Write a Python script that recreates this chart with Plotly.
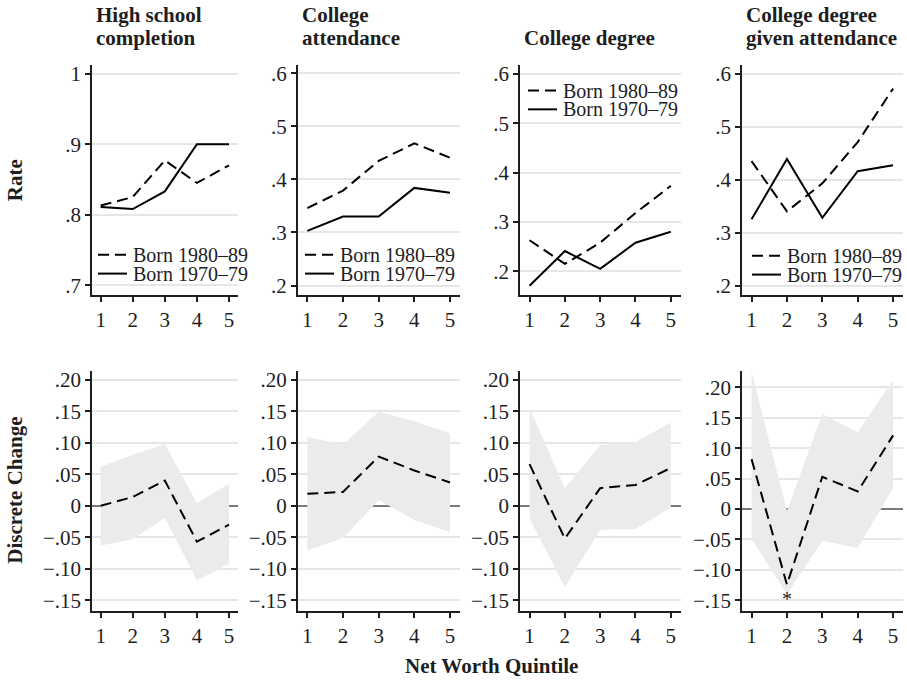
import plotly.graph_objects as go

# ---- data -------------------------------------------------------------
QUINTILES = [1, 2, 3, 4, 5]
COHORTS = ["Born 1980–89", "Born 1970–79"]
PANEL_TITLES = [
    ["High school", "completion"],
    ["College", "attendance"],
    ["", "College degree"],
    ["College degree", "given attendance"],
]

# Rates by cohort (top row)
hs_1980 = [0.813, 0.825, 0.877, 0.845, 0.870]
hs_1970 = [0.811, 0.808, 0.833, 0.900, 0.900]
att_1980 = [0.346, 0.379, 0.435, 0.468, 0.441]
att_1970 = [0.303, 0.330, 0.330, 0.384, 0.375]
deg_1980 = [0.263, 0.215, 0.258, 0.318, 0.373]
deg_1970 = [0.171, 0.241, 0.205, 0.258, 0.280]
gat_1980 = [0.435, 0.340, 0.393, 0.471, 0.572]
gat_1970 = [0.325, 0.439, 0.328, 0.416, 0.427]

# Discrete change with confidence band (bottom row)
hs_chg = [0.000, 0.014, 0.040, -0.057, -0.030]
hs_lo = [-0.063, -0.053, -0.019, -0.118, -0.092]
hs_hi = [0.062, 0.081, 0.098, 0.004, 0.035]
att_chg = [0.019, 0.022, 0.078, 0.056, 0.037]
att_lo = [-0.071, -0.051, 0.009, -0.022, -0.042]
att_hi = [0.109, 0.097, 0.149, 0.134, 0.115]
deg_chg = [0.066, -0.052, 0.028, 0.033, 0.060]
deg_lo = [-0.020, -0.129, -0.038, -0.037, -0.003]
deg_hi = [0.155, 0.028, 0.096, 0.101, 0.132]
gat_chg = [0.082, -0.124, 0.053, 0.029, 0.121]
gat_lo = [-0.049, -0.140, -0.052, -0.064, 0.034]
gat_hi = [0.226, -0.003, 0.156, 0.126, 0.212]

RATE_TICKS_HS = [0.7, 0.8, 0.9, 1.0]
RATE_LABELS_HS = [".7", ".8", ".9", "1"]
RATE_TICKS = [0.2, 0.3, 0.4, 0.5, 0.6]
RATE_LABELS = [".2", ".3", ".4", ".5", ".6"]
CHG_TICKS = [-0.15, -0.10, -0.05, 0.0, 0.05, 0.10, 0.15, 0.20]
CHG_LABELS = ["\u2212.15", "\u2212.10", "\u2212.05", "0", ".05", ".10", ".15", ".20"]
SIGNIFICANT = [(3, 1)]  # (panel index, quintile index) marked with an asterisk

rates = [(hs_1980, hs_1970), (att_1980, att_1970), (deg_1980, deg_1970), (gat_1980, gat_1970)]
changes = [(hs_chg, hs_lo, hs_hi), (att_chg, att_lo, att_hi),
           (deg_chg, deg_lo, deg_hi), (gat_chg, gat_lo, gat_hi)]

# ---- layout geometry ----------------------------------------------------
W, H = 907, 681
FONT = "'Liberation Serif', 'Times New Roman', 'DejaVu Serif', serif"
INK = "#1e1e1e"


def fx(px):
    return px / W


def fy(py):
    return 1 - py / H


X_DOMAINS = [(92, 238), (297.7, 460), (520, 680.7), (742, 903)]
TOP_ROW = (62.7, 294.7)
BOT_ROW = (371, 613.3)
X_RANGE = [0.73, 5.28]
TOP_RANGES = [[0.686, 1.012], [0.1819, 0.6155], [0.1519, 0.6174], [0.1819, 0.6163]]
BOT_RANGES = [[-0.1667, 0.2142], [-0.1667, 0.2142], [-0.1667, 0.2142], [-0.1673, 0.2272]]

DASH = "11px,6px"
BAND = "#ebebeb"

fig = go.Figure()
layout = dict(
    width=W, height=H, margin=dict(l=0, r=0, t=0, b=0),
    paper_bgcolor="white", plot_bgcolor="white", showlegend=False,
    font=dict(family=FONT, color=INK),
)


def axis_style(**kw):
    base = dict(
        showline=True, linecolor=INK, linewidth=1.5,
        ticks="outside", ticklen=5, tickwidth=1.5, tickcolor=INK,
        tickfont=dict(family=FONT, size=21, color=INK),
        fixedrange=True,
    )
    base.update(kw)
    return base


for i in range(4):
    x0, x1 = X_DOMAINS[i]
    # top row: axes i+1 ; bottom row: axes i+5
    for row, (n, yr) in enumerate([(i + 1, TOP_ROW), (i + 5, BOT_ROW)]):
        xa = "xaxis" if n == 1 else f"xaxis{n}"
        ya = "yaxis" if n == 1 else f"yaxis{n}"
        xref = "x" if n == 1 else f"x{n}"
        yref = "y" if n == 1 else f"y{n}"
        layout[xa] = axis_style(
            domain=[fx(x0), fx(x1)], range=X_RANGE, tickvals=QUINTILES,
            showgrid=False, zeroline=False, anchor=yref,
        )
        if row == 0:
            tv, tt = (RATE_TICKS_HS, RATE_LABELS_HS) if i == 0 else (RATE_TICKS, RATE_LABELS)
            layout[ya] = axis_style(
                domain=[fy(yr[1]), fy(yr[0])], range=TOP_RANGES[i],
                tickvals=tv, ticktext=tt, showgrid=True, gridcolor="#e6e6e6",
                gridwidth=2, zeroline=False, anchor=xref,
            )
            new, old = rates[i]
            fig.add_trace(go.Scatter(x=QUINTILES, y=new, mode="lines", name=COHORTS[0],
                                     line=dict(color="black", width=2, dash=DASH),
                                     xaxis=xref, yaxis=yref, hoverinfo="skip"))
            fig.add_trace(go.Scatter(x=QUINTILES, y=old, mode="lines", name=COHORTS[1],
                                     line=dict(color="black", width=2),
                                     xaxis=xref, yaxis=yref, hoverinfo="skip"))
        else:
            layout[ya] = axis_style(
                domain=[fy(yr[1]), fy(yr[0])], range=BOT_RANGES[i],
                tickvals=CHG_TICKS, ticktext=CHG_LABELS, showgrid=True,
                gridcolor="#e6e6e6", gridwidth=2, zeroline=True,
                zerolinecolor="#7a7a7a", zerolinewidth=2, anchor=xref,
            )
            chg, lo, hi = changes[i]
            fig.add_trace(go.Scatter(
                x=QUINTILES + QUINTILES[::-1], y=hi + lo[::-1], mode="lines",
                fill="toself", fillcolor=BAND, line=dict(width=0, color=BAND),
                xaxis=xref, yaxis=yref, hoverinfo="skip"))
            fig.add_trace(go.Scatter(x=QUINTILES, y=chg, mode="lines",
                                     line=dict(color="black", width=2, dash=DASH),
                                     xaxis=xref, yaxis=yref, hoverinfo="skip"))

annotations = []
shapes = []

# panel titles (two lines, left aligned at the axis)
for i, lines in enumerate(PANEL_TITLES):
    for j, txt in enumerate(lines):
        if not txt:
            continue
        annotations.append(dict(
            x=fx(X_DOMAINS[i][0] + 2), y=fy(12.5 + 22.5 * j), xref="paper", yref="paper",
            xanchor="left", yanchor="middle", showarrow=False,
            text=f"<b>{txt}</b>", font=dict(family=FONT, size=21, color=INK)))

# row and column titles
annotations.append(dict(x=fx(15), y=fy(178.7), xref="paper", yref="paper", textangle=-90,
                        xanchor="center", yanchor="middle", showarrow=False,
                        text="<b>Rate</b>", font=dict(family=FONT, size=21, color=INK)))
annotations.append(dict(x=fx(15), y=fy(492), xref="paper", yref="paper", textangle=-90,
                        xanchor="center", yanchor="middle", showarrow=False,
                        text="<b>Discrete Change</b>", font=dict(family=FONT, size=21, color=INK)))
annotations.append(dict(x=fx(491), y=fy(669), xref="paper", yref="paper",
                        xanchor="center", yanchor="middle", showarrow=False,
                        text="<b>Net Worth Quintile</b>", font=dict(family=FONT, size=21, color=INK)))

# significance marker
for p, q in SIGNIFICANT:
    n = p + 5
    annotations.append(dict(x=QUINTILES[q], y=changes[p][1][q], xref=f"x{n}", yref=f"y{n}",
                            xanchor="center", yanchor="middle", yshift=-5, showarrow=False,
                            text="*", font=dict(family=FONT, size=20, color=INK)))

# in-panel legends: key start x, text x, first row y (pixels)
LEGEND_POS = [(98, 131, 254), (305, 338.3, 254), (528, 560.7, 88.3), (752, 785, 255)]
ROW_GAP = 19
for kx, tx, ry in LEGEND_POS:
    for k, label in enumerate(COHORTS):
        yy = fy(ry + ROW_GAP * k)
        shapes.append(dict(type="line", xref="paper", yref="paper",
                           x0=fx(kx), x1=fx(kx + 29), y0=yy, y1=yy,
                           line=dict(color="black", width=2,
                                     dash=DASH if k == 0 else "solid")))
        annotations.append(dict(x=fx(tx), y=yy, xref="paper", yref="paper",
                                xanchor="left", yanchor="middle", showarrow=False,
                                text=label, font=dict(family=FONT, size=20, color=INK)))

layout["annotations"] = annotations
layout["shapes"] = shapes
fig.update_layout(**layout)
fig.write_html("out.html")
